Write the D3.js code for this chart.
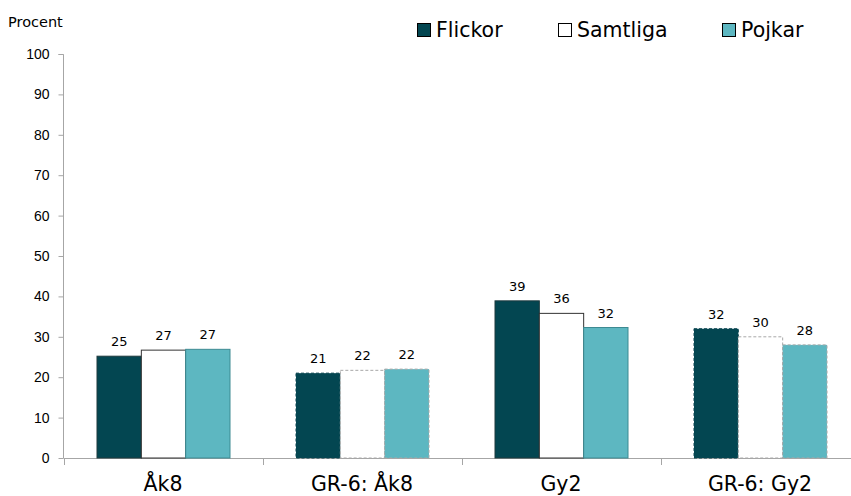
<!DOCTYPE html>
<html>
<head>
<meta charset="utf-8">
<script src="https://cdn.jsdelivr.net/npm/d3@7"></script>
<style>
  html, body { margin: 0; padding: 0; background: #fff; }
  svg { display: block; font-family: "DejaVu Sans", Verdana, sans-serif; }
</style>
</head>
<body>
<svg id="chart" width="851" height="496"></svg>
<script>
const categories = ["Åk8", "GR-6: Åk8", "Gy2", "GR-6: Gy2"];
const seriesNames = ["Flickor", "Samtliga", "Pojkar"];
const flickor  = [25.2, 21.0, 38.9, 32.0];
const samtliga = [26.7, 21.7, 35.8, 30.0];
const pojkar   = [26.9, 22.0, 32.3, 28.0];
const yTicks = [0, 10, 20, 30, 40, 50, 60, 70, 80, 90, 100];
const yLabel = "Procent";

const seriesValues = [flickor, samtliga, pojkar];
const fills = ["#034651", "#ffffff", "#5db7c1"];
const solidStroke = ["#1f3a3f", "#333333", "#3d8a92"];

const svg = d3.select("#chart");
const x0 = 63.5, x1 = 859.5, yTop = 54, yBot = 458;

const x = d3.scaleBand().domain(categories).range([x0, x1]).paddingInner(0).paddingOuter(0);
const xInner = d3.scaleBand().domain(seriesNames).range([33.5, 166.5]).padding(0);
const y = d3.scaleLinear().domain([0, 100]).range([yBot, yTop]);

// Y axis
const yAxis = d3.axisLeft(y).tickValues(yTicks).tickSize(5).tickPadding(9).tickFormat(d3.format("d"));
const gy = svg.append("g").attr("transform", `translate(${x0},0)`).call(yAxis);
gy.select(".domain").attr("stroke", "#a6a6a6").attr("d", `M-5,${yTop}.5H0V${yBot}`);
gy.selectAll(".tick line").attr("stroke", "#a6a6a6");
gy.selectAll(".tick text").attr("font-size", 14).attr("fill", "#000");

// X axis line + category boundary ticks
svg.append("line").attr("x1", x0).attr("x2", 851).attr("y1", yBot + 0.5).attr("y2", yBot + 0.5)
  .attr("stroke", "#a6a6a6");
const boundaries = categories.map(c => x(c)).concat([x1]);
svg.selectAll(".btick").data(boundaries).enter().append("line")
  .attr("x1", d => Math.round(d) + 0.5).attr("x2", d => Math.round(d) + 0.5)
  .attr("y1", yBot).attr("y2", yBot + 7).attr("stroke", "#a6a6a6");

svg.selectAll(".cat").data(categories).enter().append("text")
  .attr("x", d => x(d) + x.bandwidth() / 2)
  .attr("y", 491)
  .attr("text-anchor", "middle")
  .attr("font-size", 20.5)
  .attr("fill", "#000")
  .text(d => d);

// Bars
categories.forEach((cat, ci) => {
  const dashed = cat.startsWith("GR-6");
  seriesNames.forEach((s, si) => {
    const v = seriesValues[si][ci];
    const bx = x(cat) + xInner(s);
    const by = y(v);
    svg.append("rect")
      .attr("x", bx).attr("y", by)
      .attr("width", xInner.bandwidth()).attr("height", yBot - by)
      .attr("fill", fills[si])
      .attr("stroke", dashed ? (si === 0 ? "#0b4550" : "#a8a8a8") : solidStroke[si])
      .attr("stroke-width", 1)
      .attr("stroke-dasharray", dashed ? "3,2" : null);
    svg.append("text")
      .attr("x", bx + xInner.bandwidth() / 2)
      .attr("y", by - 10)
      .attr("text-anchor", "middle")
      .attr("font-size", 13)
      .attr("fill", "#000")
      .text(d3.format(".0f")(v));
  });
});

// Y label
svg.append("text").attr("x", 8).attr("y", 27).attr("font-size", 14.5).attr("fill", "#000").text(yLabel);

// Legend
const legendX = [417, 558, 722];
seriesNames.forEach((s, si) => {
  svg.append("rect").attr("x", legendX[si] + 0.5).attr("y", 23.5).attr("width", 13).attr("height", 13)
    .attr("fill", fills[si]).attr("stroke", "#000").attr("stroke-width", 1);
  svg.append("text").attr("x", legendX[si] + 19).attr("y", 36.5)
    .attr("font-size", 20.5).attr("fill", "#000").text(s);
});
</script>
</body>
</html>
